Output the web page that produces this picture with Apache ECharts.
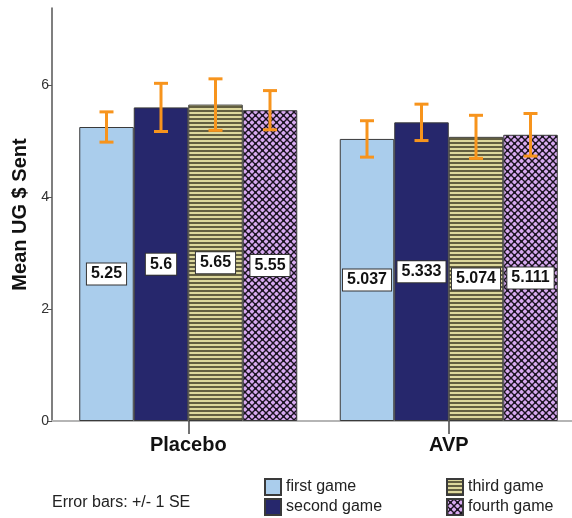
<!DOCTYPE html>
<html>
<head>
<meta charset="utf-8">
<script src="https://cdn.jsdelivr.net/npm/echarts@6/dist/echarts.min.js"></script>
<style>
  html, body { margin: 0; padding: 0; background: #fff; }
  #chart { width: 572px; height: 518px; }
</style>
</head>
<body>
<div id="chart"></div>
<script>
// Mean UG $ sent per game, by treatment group
const groups = ['Placebo', 'AVP'];
const gameNames = ['first game', 'second game', 'third game', 'fourth game'];

const firstGame  = [5.25, 5.037];
const secondGame = [5.6, 5.333];
const thirdGame  = [5.65, 5.074];
const fourthGame = [5.55, 5.111];

// standard errors (error bars show mean +/- 1 SE)
const firstSE  = [0.27, 0.325];
const secondSE = [0.43, 0.325];
const thirdSE  = [0.46, 0.385];
const fourthSE = [0.35, 0.38];

const yTicks = [0, 2, 4, 6];

const FONT = '"Liberation Sans", Arial, sans-serif';
const BAR_W = 54.5;

// fill patterns for the 3rd and 4th game bars
function stripePattern() {
  const c = document.createElement('canvas');
  c.width = 4; c.height = 4;
  const g = c.getContext('2d');
  g.fillStyle = '#DCD79C';
  g.fillRect(0, 0, 4, 4);
  g.fillStyle = '#625E40';
  g.fillRect(0, 2, 4, 2);
  return c;
}
function latticePattern() {
  const c = document.createElement('canvas');
  const s = 7;
  c.width = s; c.height = s;
  const g = c.getContext('2d');
  g.fillStyle = '#D7AAF0';
  g.fillRect(0, 0, s, s);
  g.strokeStyle = '#1a1320';
  g.lineWidth = 1.3;
  g.beginPath();
  g.moveTo(-1, -1); g.lineTo(s + 1, s + 1);
  g.moveTo(s + 1, -1); g.lineTo(-1, s + 1);
  g.stroke();
  g.fillStyle = '#1a1320';
  [[0, 0], [s, 0], [0, s], [s, s], [s / 2, s / 2]].forEach(([x, y]) => {
    g.beginPath(); g.arc(x, y, 1.3, 0, Math.PI * 2); g.fill();
  });
  return c;
}

const fills = [
  '#AACDEC',
  '#26276C',
  { image: stripePattern(), repeat: 'repeat' },
  { image: latticePattern(), repeat: 'repeat' }
];

const means = [firstGame, secondGame, thirdGame, fourthGame];
const ses = [firstSE, secondSE, thirdSE, fourthSE];

const labelStyle = {
  show: true,
  position: 'inside',
  formatter: p => String(p.value),
  backgroundColor: '#fff',
  borderColor: '#333',
  borderWidth: 1,
  padding: [3, 4, 2, 4],
  color: '#111',
  fontWeight: 'bold',
  fontSize: 16,
  fontFamily: FONT
};

const barSeries = gameNames.map((name, i) => ({
  name,
  type: 'bar',
  xAxisIndex: 0,
  yAxisIndex: 0,
  barWidth: BAR_W,
  barGap: '0%',
  data: means[i],
  itemStyle: { color: fills[i], borderColor: '#3a3a3a', borderWidth: 1 },
  label: labelStyle,
  emphasis: { disabled: true },
  z: 2
}));

// orange +/- 1 SE whiskers with caps, one custom series per game
const errorSeries = gameNames.map((name, i) => ({
  type: 'custom',
  xAxisIndex: 0,
  yAxisIndex: 0,
  data: means[i].map((m, k) => [k, m - ses[i][k], m + ses[i][k]]),
  z: 5,
  silent: true,
  renderItem: (params, api) => {
    const k = api.value(0);
    const lo = api.coord([k, api.value(1)]);
    const hi = api.coord([k, api.value(2)]);
    const x = lo[0] + (i - 1.5) * BAR_W;
    const cap = 7;
    const style = { stroke: '#F7941D', lineWidth: 3, fill: null };
    return {
      type: 'group',
      children: [
        { type: 'line', shape: { x1: x, y1: lo[1], x2: x, y2: hi[1] }, style },
        { type: 'line', shape: { x1: x - cap, y1: lo[1], x2: x + cap, y2: lo[1] }, style },
        { type: 'line', shape: { x1: x - cap, y1: hi[1], x2: x + cap, y2: hi[1] }, style }
      ]
    };
  }
}));

const legendBase = {
  orient: 'vertical',
  top: 478,
  height: 60,
  itemWidth: 16,
  itemHeight: 16,
  itemGap: 2,
  padding: 0,
  icon: 'rect',
  selectedMode: false,
  textStyle: { fontSize: 16, color: '#222', fontFamily: FONT, lineHeight: 18 }
};

const chart = echarts.init(document.getElementById('chart'), null, { renderer: 'canvas' });
chart.setOption({
  animation: false,
  backgroundColor: '#fff',
  textStyle: { fontFamily: FONT },
  title: {
    text: 'Error bars: +/- 1 SE',
    left: 52,
    top: 495,
    padding: 0,
    textStyle: { fontSize: 16, fontWeight: 'normal', color: '#222', fontFamily: FONT }
  },
  legend: [
    Object.assign({}, legendBase, { data: gameNames.slice(0, 2), left: 264 }),
    Object.assign({}, legendBase, { data: gameNames.slice(2, 4), left: 446 })
  ],
  grid: [
    { left: 58, width: 521, top: 8, bottom: 97, containLabel: false, outerBoundsMode: 'none' },
    { left: 52, right: 0, top: 8, bottom: 97, containLabel: false, outerBoundsMode: 'none' }
  ],
  xAxis: [
    {
      type: 'category',
      gridIndex: 0,
      data: groups,
      axisLine: { show: false },
      axisTick: { show: true, alignWithLabel: true, length: 13, lineStyle: { color: '#444', width: 1.5 } },
      axisLabel: { margin: 14, fontSize: 20, fontWeight: 'bold', color: '#111', fontFamily: FONT }
    },
    {
      type: 'value',
      gridIndex: 1,
      min: 0,
      max: 1,
      axisLine: { show: true, lineStyle: { color: '#B5B5B5', width: 2 } },
      axisTick: { show: false },
      axisLabel: { show: false },
      splitLine: { show: false }
    }
  ],
  yAxis: [
    {
      type: 'value',
      gridIndex: 0,
      min: 0,
      max: 7.375,
      offset: 6,
      name: 'Mean UG $ Sent',
      nameLocation: 'middle',
      nameGap: 22,
      nameTextStyle: { fontSize: 20, fontWeight: 'bold', color: '#111', fontFamily: FONT },
      axisLine: { show: true, lineStyle: { color: '#555', width: 1.5 } },
      axisTick: { show: true, length: 5, customValues: yTicks, lineStyle: { color: '#555' } },
      axisLabel: { customValues: yTicks, fontSize: 14, color: '#333', margin: 3, fontFamily: FONT },
      splitLine: { show: false }
    },
    {
      type: 'value',
      gridIndex: 1,
      show: false
    }
  ],
  series: [...barSeries, ...errorSeries]
});
</script>
</body>
</html>
